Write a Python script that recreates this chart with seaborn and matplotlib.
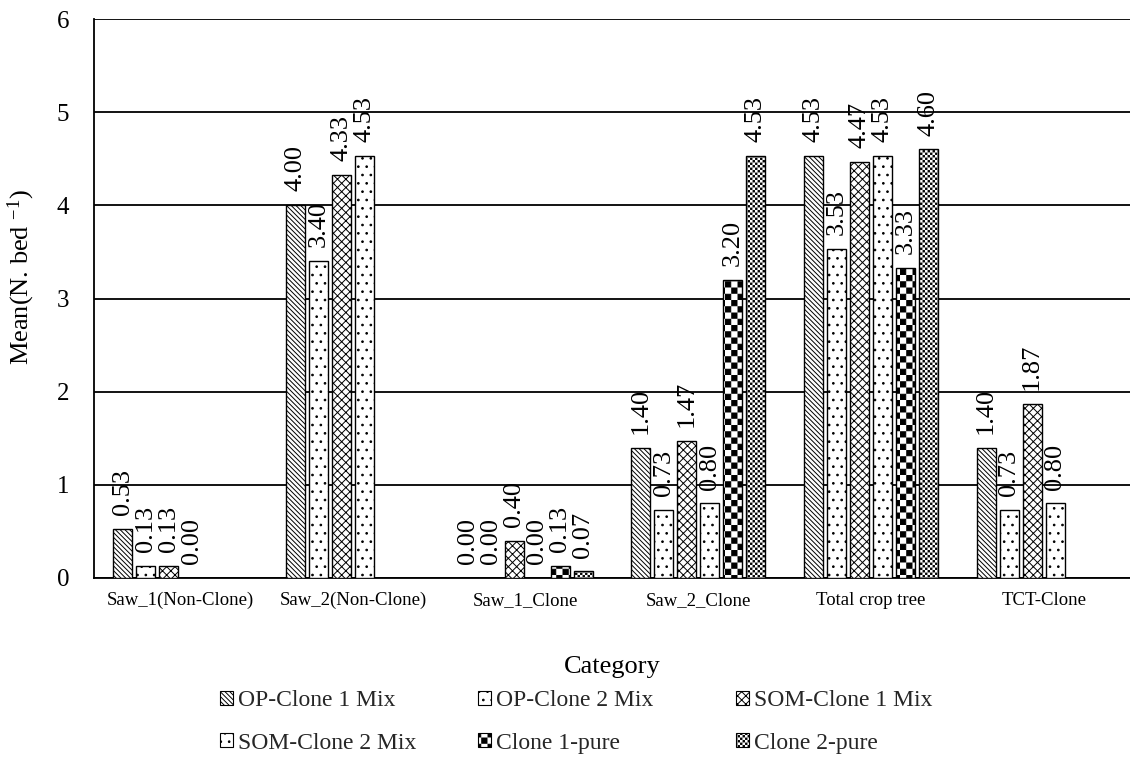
import numpy as np
import pandas as pd
import matplotlib
matplotlib.use("Agg")
import matplotlib.pyplot as plt
import matplotlib.hatch as mhatch
from matplotlib.path import Path
from matplotlib.patches import Patch
import seaborn as sns

# ---- data -------------------------------------------------------------
categories = ["Saw_1(Non-Clone)", "Saw_2(Non-Clone)", "Saw_1_Clone",
              "Saw_2_Clone", "Total crop tree", "TCT-Clone"]
series = ["OP-Clone 1 Mix", "OP-Clone 2 Mix", "SOM-Clone 1 Mix",
          "SOM-Clone 2 Mix", "Clone 1-pure", "Clone 2-pure"]

op_clone1_mix = [0.53, 4.00, 0.00, 1.40, 4.53, 1.40]
op_clone2_mix = [0.13, 3.40, 0.00, 0.73, 3.53, 0.73]
som_clone1_mix = [0.13, 4.33, 0.40, 1.47, 4.47, 1.87]
som_clone2_mix = [0.00, 4.53, 0.00, 0.80, 4.53, 0.80]
clone1_pure = [np.nan, np.nan, 0.13, 3.20, 3.33, np.nan]
clone2_pure = [np.nan, np.nan, 0.07, 4.53, 4.60, np.nan]

y_ticks = [0, 1, 2, 3, 4, 5, 6]


# ---- checkerboard hatches ---------------------------------------------
class _CheckerHatch(mhatch.HatchPatternBase):
    symbol = "O"
    cells = 16
    inset = 0.004

    def __init__(self, hatch, density):
        self.active = hatch.count(self.symbol) > 0
        n_black = (self.cells * self.cells) // 2
        self.num_vertices = n_black * 5 if self.active else 0

    def set_vertices_and_codes(self, vertices, codes):
        step = 1.0 / self.cells
        k = 0
        for i in range(self.cells):
            for j in range(self.cells):
                if (i + j) % 2:
                    continue
                x0, x1 = i * step + self.inset, (i + 1) * step - self.inset
                y0, y1 = j * step + self.inset, (j + 1) * step - self.inset
                vertices[k:k + 5] = [[x0, y0], [x1, y0], [x1, y1], [x0, y1], [x0, y0]]
                codes[k:k + 5] = [Path.MOVETO, Path.LINETO, Path.LINETO,
                                  Path.LINETO, Path.CLOSEPOLY]
                k += 5


class BigChecker(_CheckerHatch):
    symbol = "O"
    cells = 16
    inset = 0.005


class FineChecker(_CheckerHatch):
    symbol = "o"
    cells = 40
    inset = 0.0055


mhatch._hatch_types[:] = [t for t in mhatch._hatch_types
                          if t not in (mhatch.SmallCircles, mhatch.LargeCircles)]
mhatch._hatch_types += [BigChecker, FineChecker]

hatches = ["\\" * 7, "..", "x" * 4, "..", "O", "o"]

# ---- styling -----------------------------------------------------------
sns.set_theme(style="white")
plt.rcParams["font.family"] = ["Liberation Serif", "DejaVu Serif"]
plt.rcParams["mathtext.fontset"] = "custom"
plt.rcParams["mathtext.rm"] = "Liberation Serif"
plt.rcParams["mathtext.it"] = "Liberation Serif:italic"
plt.rcParams["mathtext.bf"] = "Liberation Serif:bold"
plt.rcParams["hatch.linewidth"] = 0.7
plt.rcParams["hatch.color"] = "black"

# ---- long-form table ----------------------------------------------------
values = [op_clone1_mix, op_clone2_mix, som_clone1_mix,
          som_clone2_mix, clone1_pure, clone2_pure]
rows = []
for s, vals in zip(series, values):
    for c, v in zip(categories, vals):
        rows.append({"Category": c, "Series": s, "Mean": v})
df = pd.DataFrame(rows).dropna(subset=["Mean"])

fig = plt.figure(figsize=(11.3, 7.8), dpi=100)
ax = fig.add_axes([94 / 1130, 1 - 578 / 780, 1 - 94 / 1130, (578 - 19) / 780])

sns.barplot(data=df, x="Category", y="Mean", hue="Series",
            order=categories, hue_order=series,
            palette=["white"] * len(series), edgecolor="black", linewidth=1.0,
            gap=0.17, errorbar=None, legend=False, ax=ax, zorder=3)

for container, h in zip(ax.containers, hatches):
    for bar in container:
        bar.set_hatch(h)
        bar.set_facecolor("white")
        bar.set_edgecolor("black")
    ax.bar_label(container, fmt="%.2f", rotation=90, padding=10,
                 fontsize=19, color="black")

ax.set_ylim(0, 6)
ax.set_yticks(y_ticks)
ax.set_yticklabels([str(t) for t in y_ticks])
ax.yaxis.grid(True, color="black", linewidth=1.3, zorder=0)
ax.set_axisbelow(True)
ax.tick_params(axis="y", length=0, pad=18, labelsize=18, colors="black")
ax.tick_params(axis="x", length=0, pad=10, labelsize=13.5, colors="black")

for side in ["top", "right"]:
    ax.spines[side].set_visible(False)
for side in ["left", "bottom"]:
    ax.spines[side].set_color("black")
    ax.spines[side].set_linewidth(1.3)

ax.set_xlabel("Category", fontsize=19, color="black")
ax.xaxis.set_label_coords(0.5, -0.14)
ax.set_ylabel("Mean(N. bed $^{-1}$)", fontsize=19, color="black")
ax.yaxis.set_label_coords(-0.055, 0.538)

# ---- legend: three columns of two rows ------------------------------------
col_x = [220, 478, 736]
for c in range(3):
    idx = [c, c + 3]
    handles = [Patch(facecolor="white", edgecolor="black", linewidth=0.8,
                     hatch=hatches[i], label=series[i]) for i in idx]
    fig.legend(handles=handles, loc="upper left",
               bbox_to_anchor=(col_x[c] / 1130, 1 - 690 / 780),
               frameon=False, fontsize=17, handlelength=0.55, handleheight=0.55,
               handletextpad=0.2, labelspacing=0.92, borderpad=0, borderaxespad=0)

fig.savefig("out.png", dpi=100)
